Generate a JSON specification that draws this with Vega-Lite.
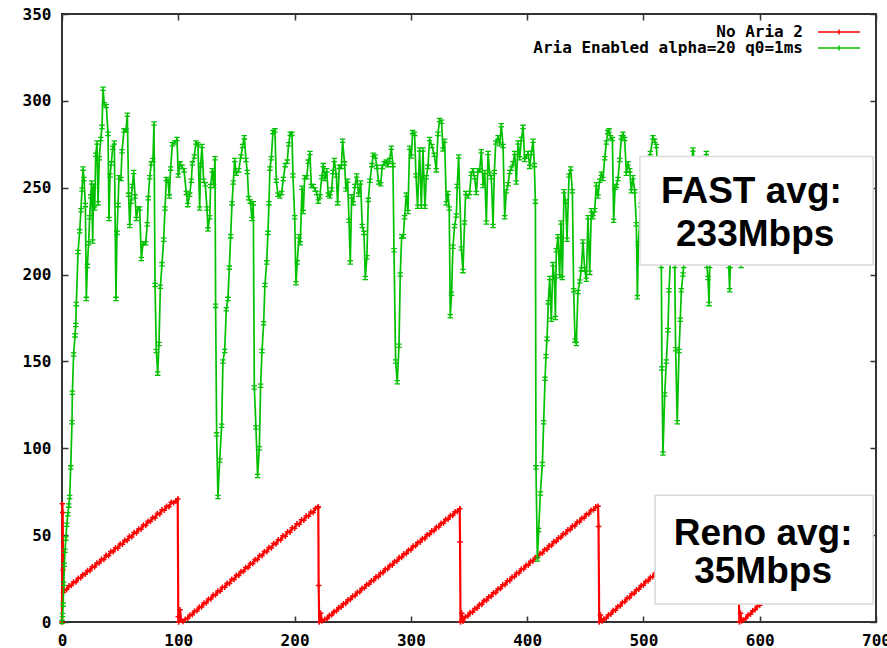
{
  "$schema": "https://vega.github.io/schema/vega-lite/v6.json",
  "width": 814,
  "height": 608,
  "autosize": {"type": "none"},
  "padding": {"left": 62, "top": 14, "right": 11, "bottom": 26},
  "background": "white",
  "config": {
    "view": {"stroke": "#333333", "strokeWidth": 2},
    "axis": {
      "domain": false,
      "grid": false,
      "title": null,
      "tickColor": "#333333",
      "tickWidth": 1.5,
      "tickSize": -6,
      "labelFont": "DejaVu Sans Mono",
      "labelFontWeight": "bold",
      "labelFontSize": 16,
      "labelColor": "#000000",
      "labelFlush": false,
      "labelOverlap": false,
      "labelBound": false
    }
  },
  "datasets": {
    "reno": [
      {"t": 0, "v": 0}, {"t": 0.3, "v": 68}, {"t": 0.6, "v": 63}, {"t": 0.9, "v": 30}, {"t": 1.2, "v": 17},
      {"t": 2, "v": 18.3}, {"t": 4, "v": 18.7}, {"t": 6, "v": 20.9}, {"t": 8, "v": 21.0}, {"t": 10, "v": 23.1},
      {"t": 12, "v": 23.0}, {"t": 14, "v": 25.2}, {"t": 16, "v": 25.3}, {"t": 18, "v": 27.4}, {"t": 20, "v": 27.5},
      {"t": 22, "v": 29.6}, {"t": 24, "v": 29.5}, {"t": 26, "v": 31.8}, {"t": 28, "v": 31.7}, {"t": 30, "v": 34.0},
      {"t": 32, "v": 33.9}, {"t": 34, "v": 36.1}, {"t": 36, "v": 36.0}, {"t": 38, "v": 38.4}, {"t": 40, "v": 38.2},
      {"t": 42, "v": 40.6}, {"t": 44, "v": 40.4}, {"t": 46, "v": 42.7}, {"t": 48, "v": 42.5}, {"t": 50, "v": 44.9},
      {"t": 52, "v": 44.8}, {"t": 54, "v": 47.1}, {"t": 56, "v": 46.9}, {"t": 58, "v": 49.3}, {"t": 60, "v": 49.0},
      {"t": 62, "v": 51.5}, {"t": 64, "v": 51.2}, {"t": 66, "v": 53.6}, {"t": 68, "v": 53.4}, {"t": 70, "v": 55.9},
      {"t": 72, "v": 55.6}, {"t": 74, "v": 58.0}, {"t": 76, "v": 57.8}, {"t": 78, "v": 60.2}, {"t": 80, "v": 59.9},
      {"t": 82, "v": 62.4}, {"t": 84, "v": 62.1}, {"t": 86, "v": 64.6}, {"t": 88, "v": 64.3}, {"t": 90, "v": 66.7},
      {"t": 92, "v": 66.4}, {"t": 94, "v": 68.9}, {"t": 96, "v": 68.6}, {"t": 98, "v": 69.6}, {"t": 99.5, "v": 70.8},
      {"t": 100, "v": 3}, {"t": 100.3, "v": 0}, {"t": 101.5, "v": 7}, {"t": 102.5, "v": 1}, {"t": 104, "v": 0.3},
      {"t": 106, "v": 1.6}, {"t": 108, "v": 2.0}, {"t": 110, "v": 4.0}, {"t": 112, "v": 4.2}, {"t": 114, "v": 6.3},
      {"t": 116, "v": 6.4}, {"t": 118, "v": 8.6}, {"t": 120, "v": 8.7}, {"t": 122, "v": 10.9}, {"t": 124, "v": 11.0},
      {"t": 126, "v": 13.2}, {"t": 128, "v": 13.2}, {"t": 130, "v": 15.5}, {"t": 132, "v": 15.5}, {"t": 134, "v": 17.8},
      {"t": 136, "v": 17.7}, {"t": 138, "v": 20.0}, {"t": 140, "v": 20.0}, {"t": 142, "v": 22.3}, {"t": 144, "v": 22.2},
      {"t": 146, "v": 24.6}, {"t": 148, "v": 24.5}, {"t": 150, "v": 26.9}, {"t": 152, "v": 26.8}, {"t": 154, "v": 29.1},
      {"t": 156, "v": 29.0}, {"t": 158, "v": 31.4}, {"t": 160, "v": 31.3}, {"t": 162, "v": 33.7}, {"t": 164, "v": 33.6},
      {"t": 166, "v": 36.0}, {"t": 168, "v": 35.9}, {"t": 170, "v": 38.3}, {"t": 172, "v": 38.1}, {"t": 174, "v": 40.6},
      {"t": 176, "v": 40.4}, {"t": 178, "v": 42.9}, {"t": 180, "v": 42.6}, {"t": 182, "v": 45.2}, {"t": 184, "v": 44.9},
      {"t": 186, "v": 47.4}, {"t": 188, "v": 47.2}, {"t": 190, "v": 49.7}, {"t": 192, "v": 49.4}, {"t": 194, "v": 52.0},
      {"t": 196, "v": 51.7}, {"t": 198, "v": 54.3}, {"t": 200, "v": 54.0}, {"t": 202, "v": 56.5}, {"t": 204, "v": 56.3},
      {"t": 206, "v": 58.8}, {"t": 208, "v": 58.6}, {"t": 210, "v": 61.0}, {"t": 212, "v": 60.9}, {"t": 214, "v": 63.3},
      {"t": 216, "v": 63.1}, {"t": 218, "v": 65.5}, {"t": 220, "v": 65.8}, {"t": 220.4, "v": 66.3}, {"t": 220.7, "v": 21},
      {"t": 221.2, "v": 0}, {"t": 222.5, "v": 5}, {"t": 223.5, "v": 0.5},
      {"t": 226, "v": 1.6}, {"t": 228, "v": 1.9}, {"t": 230, "v": 3.9}, {"t": 232, "v": 4.1}, {"t": 234, "v": 6.1},
      {"t": 236, "v": 6.3}, {"t": 238, "v": 8.3}, {"t": 240, "v": 8.5}, {"t": 242, "v": 10.5}, {"t": 244, "v": 10.7},
      {"t": 246, "v": 12.8}, {"t": 248, "v": 12.9}, {"t": 250, "v": 15.0}, {"t": 252, "v": 15.1}, {"t": 254, "v": 17.2},
      {"t": 256, "v": 17.3}, {"t": 258, "v": 19.4}, {"t": 260, "v": 19.5}, {"t": 262, "v": 21.6}, {"t": 264, "v": 21.7},
      {"t": 266, "v": 23.8}, {"t": 268, "v": 23.9}, {"t": 270, "v": 26.0}, {"t": 272, "v": 26.1}, {"t": 274, "v": 28.2},
      {"t": 276, "v": 28.3}, {"t": 278, "v": 30.5}, {"t": 280, "v": 30.5}, {"t": 282, "v": 32.7}, {"t": 284, "v": 32.7},
      {"t": 286, "v": 34.9}, {"t": 288, "v": 34.9}, {"t": 290, "v": 37.1}, {"t": 292, "v": 37.1}, {"t": 294, "v": 39.3},
      {"t": 296, "v": 39.3}, {"t": 298, "v": 41.5}, {"t": 300, "v": 41.5}, {"t": 302, "v": 43.7}, {"t": 304, "v": 43.7},
      {"t": 306, "v": 45.9}, {"t": 308, "v": 45.9}, {"t": 310, "v": 48.1}, {"t": 312, "v": 48.1}, {"t": 314, "v": 50.3},
      {"t": 316, "v": 50.3}, {"t": 318, "v": 52.5}, {"t": 320, "v": 52.5}, {"t": 322, "v": 54.7}, {"t": 324, "v": 54.7},
      {"t": 326, "v": 56.9}, {"t": 328, "v": 56.9}, {"t": 330, "v": 59.1}, {"t": 332, "v": 59.1}, {"t": 334, "v": 61.3},
      {"t": 336, "v": 61.3}, {"t": 338, "v": 63.5}, {"t": 340, "v": 63.6}, {"t": 342, "v": 65.2}, {"t": 342.3, "v": 46},
      {"t": 342.7, "v": 0}, {"t": 343.8, "v": 5}, {"t": 345, "v": 0.5},
      {"t": 347, "v": 3.1}, {"t": 349, "v": 3.4}, {"t": 351, "v": 5.5}, {"t": 353, "v": 5.6}, {"t": 355, "v": 7.8},
      {"t": 357, "v": 7.9}, {"t": 359, "v": 10.1}, {"t": 361, "v": 10.1}, {"t": 363, "v": 12.4}, {"t": 365, "v": 12.4},
      {"t": 367, "v": 14.6}, {"t": 369, "v": 14.7}, {"t": 371, "v": 16.9}, {"t": 373, "v": 16.9}, {"t": 375, "v": 19.2},
      {"t": 377, "v": 19.2}, {"t": 379, "v": 21.4}, {"t": 381, "v": 21.4}, {"t": 383, "v": 23.7}, {"t": 385, "v": 23.7},
      {"t": 387, "v": 25.9}, {"t": 389, "v": 26.0}, {"t": 391, "v": 28.2}, {"t": 393, "v": 28.2}, {"t": 395, "v": 30.5},
      {"t": 397, "v": 30.5}, {"t": 399, "v": 32.7}, {"t": 401, "v": 32.7}, {"t": 403, "v": 35.0}, {"t": 405, "v": 35.0},
      {"t": 407, "v": 37.2}, {"t": 409, "v": 37.3}, {"t": 411, "v": 39.5}, {"t": 413, "v": 39.5}, {"t": 415, "v": 41.8},
      {"t": 417, "v": 41.8}, {"t": 419, "v": 44.0}, {"t": 421, "v": 44.0}, {"t": 423, "v": 46.3}, {"t": 425, "v": 46.3},
      {"t": 427, "v": 48.5}, {"t": 429, "v": 48.6}, {"t": 431, "v": 50.8}, {"t": 433, "v": 50.8}, {"t": 435, "v": 53.1},
      {"t": 437, "v": 53.1}, {"t": 439, "v": 55.3}, {"t": 441, "v": 55.3}, {"t": 443, "v": 57.6}, {"t": 445, "v": 57.6},
      {"t": 447, "v": 59.8}, {"t": 449, "v": 59.9}, {"t": 451, "v": 62.1}, {"t": 453, "v": 62.1}, {"t": 455, "v": 64.4},
      {"t": 457, "v": 64.4}, {"t": 459, "v": 66.4}, {"t": 461, "v": 66.6}, {"t": 461.4, "v": 55}, {"t": 462, "v": 0},
      {"t": 463, "v": 4}, {"t": 464.5, "v": 0.5},
      {"t": 466, "v": 1.7}, {"t": 468, "v": 2.1}, {"t": 470, "v": 4.2}, {"t": 472, "v": 4.4}, {"t": 474, "v": 6.6},
      {"t": 476, "v": 6.8}, {"t": 478, "v": 9.0}, {"t": 480, "v": 9.2}, {"t": 482, "v": 11.4}, {"t": 484, "v": 11.6},
      {"t": 486, "v": 13.8}, {"t": 488, "v": 14.0}, {"t": 490, "v": 16.2}, {"t": 492, "v": 16.4}, {"t": 494, "v": 18.6},
      {"t": 496, "v": 18.8}, {"t": 498, "v": 21.0}, {"t": 500, "v": 21.2}, {"t": 502, "v": 23.4}, {"t": 504, "v": 23.6},
      {"t": 506, "v": 25.8}, {"t": 508, "v": 26.0}, {"t": 510, "v": 28.2}, {"t": 514, "v": 29.6}, {"t": 518, "v": 33.0},
      {"t": 522, "v": 34.4}, {"t": 526, "v": 37.8}, {"t": 530, "v": 39.2}, {"t": 534, "v": 42.6}, {"t": 538, "v": 44.0},
      {"t": 542, "v": 47.4}, {"t": 546, "v": 48.8}, {"t": 550, "v": 52.2}, {"t": 554, "v": 53.6}, {"t": 558, "v": 57.0},
      {"t": 562, "v": 58.4}, {"t": 566, "v": 61.8}, {"t": 570, "v": 63.2}, {"t": 574, "v": 66.4}, {"t": 578, "v": 68.0},
      {"t": 581, "v": 69.6}, {"t": 581.8, "v": 24}, {"t": 582.5, "v": 0}, {"t": 583.5, "v": 5}, {"t": 584.5, "v": 0.5},
      {"t": 586, "v": 1.3}, {"t": 588, "v": 2.0}, {"t": 590, "v": 4.0}, {"t": 592, "v": 4.5}, {"t": 594, "v": 6.5},
      {"t": 596, "v": 7.0}, {"t": 598, "v": 9.0}, {"t": 600, "v": 9.6}
    ],
    "aria": [
      {"t": 0, "v": 0}, {"t": 0.5, "v": 4}, {"t": 1.0, "v": 10}, {"t": 1.5, "v": 22}, {"t": 2.0, "v": 33},
      {"t": 2.6, "v": 41}, {"t": 3.3, "v": 48}, {"t": 4.1, "v": 56}, {"t": 5.0, "v": 62}, {"t": 5.8, "v": 67},
      {"t": 6.6, "v": 72}, {"t": 7.5, "v": 89}, {"t": 8.6, "v": 115}, {"t": 8.9, "v": 132}, {"t": 10.0, "v": 154},
      {"t": 11.2, "v": 165}, {"t": 11.8, "v": 171}, {"t": 12.3, "v": 183}, {"t": 13.8, "v": 213}, {"t": 15.2, "v": 225},
      {"t": 16.3, "v": 237}, {"t": 17.2, "v": 249}, {"t": 18.1, "v": 261}, {"t": 18.9, "v": 255}, {"t": 20.1, "v": 240},
      {"t": 20.9, "v": 186}, {"t": 21.8, "v": 205}, {"t": 22.9, "v": 218}, {"t": 23.8, "v": 233}, {"t": 24.7, "v": 245},
      {"t": 25.5, "v": 253}, {"t": 26.4, "v": 219}, {"t": 27.2, "v": 251}, {"t": 28.1, "v": 238}, {"t": 29.0, "v": 269},
      {"t": 30.1, "v": 276}, {"t": 31.0, "v": 241}, {"t": 32.1, "v": 267}, {"t": 33.3, "v": 278}, {"t": 34.4, "v": 285},
      {"t": 35.3, "v": 307}, {"t": 36.4, "v": 298}, {"t": 38.1, "v": 297}, {"t": 39.6, "v": 281}, {"t": 40.4, "v": 232},
      {"t": 41.3, "v": 257}, {"t": 42.4, "v": 264}, {"t": 43.6, "v": 273}, {"t": 45.0, "v": 276}, {"t": 46.4, "v": 186},
      {"t": 47.3, "v": 224}, {"t": 48.2, "v": 240}, {"t": 49.0, "v": 256}, {"t": 50.7, "v": 255}, {"t": 51.6, "v": 271},
      {"t": 53.3, "v": 283}, {"t": 55.0, "v": 283}, {"t": 56.2, "v": 292}, {"t": 57.3, "v": 246}, {"t": 58.2, "v": 228},
      {"t": 59.3, "v": 242}, {"t": 60.5, "v": 251}, {"t": 61.6, "v": 259}, {"t": 62.8, "v": 245}, {"t": 63.9, "v": 232},
      {"t": 65.4, "v": 238}, {"t": 66.8, "v": 238}, {"t": 68.2, "v": 209}, {"t": 69.7, "v": 218}, {"t": 71.9, "v": 218},
      {"t": 73.4, "v": 229}, {"t": 74.2, "v": 244}, {"t": 75.4, "v": 256}, {"t": 76.8, "v": 264}, {"t": 78.2, "v": 266},
      {"t": 79.1, "v": 287}, {"t": 80.0, "v": 194}, {"t": 81.1, "v": 156}, {"t": 82.3, "v": 143}, {"t": 83.4, "v": 160},
      {"t": 84.6, "v": 193}, {"t": 86.0, "v": 206}, {"t": 87.4, "v": 220}, {"t": 88.6, "v": 238}, {"t": 89.7, "v": 255},
      {"t": 91.1, "v": 254}, {"t": 92.3, "v": 245}, {"t": 93.4, "v": 261}, {"t": 94.9, "v": 275}, {"t": 96.9, "v": 276},
      {"t": 98.9, "v": 278}, {"t": 100.0, "v": 257}, {"t": 101.5, "v": 264}, {"t": 103.2, "v": 262}, {"t": 104.9, "v": 260},
      {"t": 106.9, "v": 247}, {"t": 108.1, "v": 240}, {"t": 109.8, "v": 246}, {"t": 111.2, "v": 254}, {"t": 112.1, "v": 264},
      {"t": 113.8, "v": 268}, {"t": 115.2, "v": 276}, {"t": 116.9, "v": 275}, {"t": 118.4, "v": 238}, {"t": 119.2, "v": 263},
      {"t": 120.4, "v": 274}, {"t": 121.8, "v": 254}, {"t": 123.2, "v": 252}, {"t": 124.7, "v": 238}, {"t": 125.5, "v": 226},
      {"t": 127.0, "v": 233}, {"t": 127.8, "v": 251}, {"t": 129.3, "v": 260}, {"t": 130.4, "v": 251}, {"t": 131.6, "v": 267},
      {"t": 132.1, "v": 182}, {"t": 133.0, "v": 108}, {"t": 134.1, "v": 72}, {"t": 135.6, "v": 93}, {"t": 137.3, "v": 113},
      {"t": 138.4, "v": 150}, {"t": 139.9, "v": 156}, {"t": 141.3, "v": 180}, {"t": 142.7, "v": 186}, {"t": 143.9, "v": 204},
      {"t": 145.0, "v": 222}, {"t": 146.2, "v": 241}, {"t": 147.3, "v": 253}, {"t": 148.5, "v": 266}, {"t": 149.9, "v": 258},
      {"t": 151.9, "v": 260}, {"t": 153.9, "v": 268}, {"t": 155.3, "v": 274}, {"t": 156.8, "v": 279}, {"t": 158.2, "v": 266},
      {"t": 159.4, "v": 259}, {"t": 160.5, "v": 244}, {"t": 161.9, "v": 242}, {"t": 163.4, "v": 232}, {"t": 164.5, "v": 241},
      {"t": 165.4, "v": 135}, {"t": 166.8, "v": 112}, {"t": 168.2, "v": 84}, {"t": 169.7, "v": 100}, {"t": 170.8, "v": 136},
      {"t": 172.0, "v": 156}, {"t": 173.4, "v": 172}, {"t": 174.5, "v": 194}, {"t": 176.0, "v": 207}, {"t": 177.1, "v": 224},
      {"t": 178.0, "v": 241}, {"t": 178.8, "v": 261}, {"t": 180.0, "v": 267}, {"t": 181.4, "v": 282}, {"t": 183.1, "v": 283},
      {"t": 184.3, "v": 254}, {"t": 185.7, "v": 246}, {"t": 187.4, "v": 245}, {"t": 188.9, "v": 247}, {"t": 190.3, "v": 255},
      {"t": 192.0, "v": 263}, {"t": 193.7, "v": 265}, {"t": 194.9, "v": 275}, {"t": 196.3, "v": 281}, {"t": 197.8, "v": 281},
      {"t": 198.6, "v": 257}, {"t": 200.1, "v": 233}, {"t": 201.2, "v": 195}, {"t": 202.3, "v": 207}, {"t": 203.8, "v": 222},
      {"t": 204.9, "v": 218}, {"t": 206.4, "v": 250}, {"t": 207.5, "v": 236}, {"t": 208.7, "v": 256}, {"t": 210.4, "v": 256},
      {"t": 211.8, "v": 265}, {"t": 213.2, "v": 270}, {"t": 214.4, "v": 251}, {"t": 216.1, "v": 251}, {"t": 217.5, "v": 249},
      {"t": 219.0, "v": 247}, {"t": 220.4, "v": 242}, {"t": 221.8, "v": 245}, {"t": 223.3, "v": 256}, {"t": 224.7, "v": 263},
      {"t": 226.1, "v": 255}, {"t": 227.6, "v": 260}, {"t": 229.0, "v": 246}, {"t": 230.4, "v": 245}, {"t": 231.9, "v": 249},
      {"t": 233.0, "v": 259}, {"t": 234.2, "v": 266}, {"t": 235.9, "v": 257}, {"t": 237.0, "v": 241}, {"t": 238.5, "v": 262},
      {"t": 240.2, "v": 262}, {"t": 241.3, "v": 277}, {"t": 243.0, "v": 264}, {"t": 244.2, "v": 249}, {"t": 245.6, "v": 254},
      {"t": 246.8, "v": 231}, {"t": 247.9, "v": 207}, {"t": 249.1, "v": 245}, {"t": 250.5, "v": 241}, {"t": 251.9, "v": 251},
      {"t": 253.4, "v": 257}, {"t": 255.1, "v": 246}, {"t": 256.8, "v": 253}, {"t": 258.2, "v": 228}, {"t": 259.7, "v": 224},
      {"t": 260.8, "v": 198}, {"t": 262.2, "v": 210}, {"t": 263.4, "v": 243}, {"t": 264.8, "v": 254}, {"t": 266.5, "v": 263},
      {"t": 267.7, "v": 269}, {"t": 269.4, "v": 268}, {"t": 270.8, "v": 262}, {"t": 272.3, "v": 253}, {"t": 274.0, "v": 252},
      {"t": 275.4, "v": 262}, {"t": 277.1, "v": 264}, {"t": 278.9, "v": 265}, {"t": 280.3, "v": 263}, {"t": 281.7, "v": 266},
      {"t": 283.2, "v": 273}, {"t": 284.6, "v": 263}, {"t": 285.5, "v": 214}, {"t": 286.9, "v": 150}, {"t": 288.3, "v": 138},
      {"t": 289.8, "v": 159}, {"t": 290.9, "v": 200}, {"t": 292.1, "v": 222}, {"t": 293.5, "v": 222}, {"t": 294.6, "v": 233},
      {"t": 296.1, "v": 246}, {"t": 297.5, "v": 236}, {"t": 298.9, "v": 273}, {"t": 300.4, "v": 268}, {"t": 301.5, "v": 282},
      {"t": 303.2, "v": 281}, {"t": 304.4, "v": 257}, {"t": 305.8, "v": 239}, {"t": 307.5, "v": 272}, {"t": 309.0, "v": 239},
      {"t": 310.4, "v": 272}, {"t": 312.1, "v": 239}, {"t": 313.3, "v": 256}, {"t": 314.7, "v": 262}, {"t": 316.1, "v": 278},
      {"t": 318.1, "v": 274}, {"t": 320.1, "v": 269}, {"t": 321.9, "v": 260}, {"t": 323.3, "v": 281}, {"t": 324.7, "v": 289},
      {"t": 326.4, "v": 288}, {"t": 327.6, "v": 272}, {"t": 329.0, "v": 277}, {"t": 330.5, "v": 241}, {"t": 331.9, "v": 247},
      {"t": 333.0, "v": 238}, {"t": 333.9, "v": 176}, {"t": 335.0, "v": 189}, {"t": 336.2, "v": 216}, {"t": 337.6, "v": 228},
      {"t": 339.1, "v": 234}, {"t": 339.9, "v": 251}, {"t": 341.1, "v": 268}, {"t": 343.4, "v": 215}, {"t": 344.8, "v": 202},
      {"t": 346.2, "v": 230}, {"t": 347.1, "v": 247}, {"t": 349.1, "v": 245}, {"t": 350.5, "v": 247}, {"t": 352.0, "v": 258},
      {"t": 353.4, "v": 260}, {"t": 354.8, "v": 256}, {"t": 356.3, "v": 247}, {"t": 357.7, "v": 260}, {"t": 359.2, "v": 260},
      {"t": 360.6, "v": 271}, {"t": 362.1, "v": 251}, {"t": 363.5, "v": 259}, {"t": 364.9, "v": 230}, {"t": 366.4, "v": 270},
      {"t": 367.8, "v": 258}, {"t": 369.2, "v": 256}, {"t": 370.7, "v": 228}, {"t": 371.8, "v": 259}, {"t": 373.0, "v": 276},
      {"t": 375.0, "v": 279}, {"t": 376.4, "v": 275}, {"t": 377.8, "v": 286}, {"t": 379.3, "v": 274}, {"t": 380.7, "v": 233},
      {"t": 382.1, "v": 248}, {"t": 383.6, "v": 252}, {"t": 385.0, "v": 259}, {"t": 386.4, "v": 261}, {"t": 387.9, "v": 264},
      {"t": 389.3, "v": 270}, {"t": 390.7, "v": 253}, {"t": 392.2, "v": 276}, {"t": 393.6, "v": 267}, {"t": 395.0, "v": 278},
      {"t": 396.5, "v": 285}, {"t": 397.9, "v": 266}, {"t": 399.3, "v": 268}, {"t": 400.8, "v": 270}, {"t": 402.2, "v": 262},
      {"t": 403.6, "v": 270}, {"t": 405.1, "v": 277}, {"t": 406.2, "v": 263}, {"t": 407.1, "v": 242}, {"t": 407.6, "v": 89},
      {"t": 408.8, "v": 36}, {"t": 409.9, "v": 53}, {"t": 411.4, "v": 74}, {"t": 413.1, "v": 91}, {"t": 414.2, "v": 115},
      {"t": 415.4, "v": 140}, {"t": 416.2, "v": 153}, {"t": 417.1, "v": 163}, {"t": 418.2, "v": 184}, {"t": 419.4, "v": 198},
      {"t": 420.8, "v": 174}, {"t": 422.2, "v": 206}, {"t": 423.4, "v": 198}, {"t": 424.3, "v": 175}, {"t": 425.1, "v": 214},
      {"t": 426.5, "v": 222}, {"t": 428.0, "v": 199}, {"t": 429.1, "v": 230}, {"t": 430.3, "v": 198}, {"t": 431.7, "v": 248},
      {"t": 433.1, "v": 242}, {"t": 434.3, "v": 220}, {"t": 436.0, "v": 257}, {"t": 437.4, "v": 261}, {"t": 438.9, "v": 248},
      {"t": 440.0, "v": 191}, {"t": 441.2, "v": 162}, {"t": 442.3, "v": 160}, {"t": 443.7, "v": 190}, {"t": 445.2, "v": 196},
      {"t": 446.6, "v": 203}, {"t": 448.0, "v": 219}, {"t": 449.5, "v": 203}, {"t": 450.9, "v": 197}, {"t": 452.3, "v": 233},
      {"t": 453.8, "v": 201}, {"t": 455.2, "v": 237}, {"t": 456.6, "v": 233}, {"t": 458.1, "v": 237}, {"t": 459.5, "v": 252},
      {"t": 460.9, "v": 245}, {"t": 462.4, "v": 254}, {"t": 463.8, "v": 258}, {"t": 465.2, "v": 255}, {"t": 466.7, "v": 267},
      {"t": 468.1, "v": 276}, {"t": 469.3, "v": 282}, {"t": 470.4, "v": 283}, {"t": 471.8, "v": 279}, {"t": 473.3, "v": 278},
      {"t": 474.4, "v": 231}, {"t": 475.6, "v": 250}, {"t": 476.7, "v": 251}, {"t": 478.1, "v": 255}, {"t": 479.6, "v": 266},
      {"t": 481.0, "v": 279}, {"t": 482.4, "v": 281}, {"t": 483.9, "v": 278}, {"t": 485.3, "v": 258}, {"t": 486.7, "v": 264},
      {"t": 488.2, "v": 260}, {"t": 489.6, "v": 248}, {"t": 491.0, "v": 256}, {"t": 492.5, "v": 248}, {"t": 493.9, "v": 229},
      {"t": 494.8, "v": 187}, {"t": 495.6, "v": 218}, {"t": 498, "v": 240}, {"t": 501, "v": 255}, {"t": 504, "v": 262},
      {"t": 506, "v": 270}, {"t": 508.2, "v": 279}, {"t": 509.7, "v": 277}, {"t": 511.1, "v": 274}, {"t": 513, "v": 250},
      {"t": 515.4, "v": 205}, {"t": 515.9, "v": 146}, {"t": 516.8, "v": 97}, {"t": 518.3, "v": 131}, {"t": 519.7, "v": 150},
      {"t": 521.1, "v": 168}, {"t": 522.0, "v": 191}, {"t": 523.1, "v": 207}, {"t": 525, "v": 230}, {"t": 526.9, "v": 205},
      {"t": 527.7, "v": 157}, {"t": 529.1, "v": 115}, {"t": 530.6, "v": 156}, {"t": 531.7, "v": 174}, {"t": 532.6, "v": 191},
      {"t": 534.0, "v": 200}, {"t": 534.6, "v": 205}, {"t": 537, "v": 240}, {"t": 540, "v": 255}, {"t": 542.6, "v": 272},
      {"t": 545, "v": 258}, {"t": 548, "v": 245}, {"t": 551, "v": 235}, {"t": 554.1, "v": 270}, {"t": 554.6, "v": 205},
      {"t": 555.5, "v": 198}, {"t": 556.4, "v": 183}, {"t": 557.0, "v": 205}, {"t": 560, "v": 240}, {"t": 563, "v": 255},
      {"t": 566, "v": 248}, {"t": 569, "v": 236}, {"t": 572.7, "v": 210}, {"t": 573.4, "v": 205}, {"t": 574.1, "v": 191},
      {"t": 574.7, "v": 205}, {"t": 578, "v": 245}, {"t": 581, "v": 258}, {"t": 584, "v": 205}, {"t": 587, "v": 240},
      {"t": 590, "v": 252}, {"t": 594, "v": 246}, {"t": 597, "v": 238}, {"t": 600, "v": 250}
    ],
    "boxes": [
      {"x0": 497, "x1": 697.5, "y0": 205.5, "y1": 268},
      {"x0": 510, "x1": 697.5, "y0": 10.4, "y1": 73}
    ],
    "notes": [
      {"x": 592.8, "y": 241.0, "text": "FAST avg:"},
      {"x": 596.1, "y": 216.5, "text": "233Mbps"},
      {"x": 602.9, "y": 44.3, "text": "Reno avg:"},
      {"x": 602.9, "y": 22.6, "text": "35Mbps"}
    ]
  },
  "layer": [
    {
      "data": {"name": "reno"},
      "mark": {"type": "line", "strokeWidth": 2.2},
      "encoding": {
        "x": {
          "field": "t", "type": "quantitative",
          "scale": {"domain": [0, 700], "nice": false, "zero": false},
          "axis": {"orient": "bottom", "values": [0, 100, 200, 300, 400, 500, 600, 700], "labelPadding": 16}
        },
        "y": {
          "field": "v", "type": "quantitative",
          "scale": {"domain": [0, 350], "nice": false, "zero": false},
          "axis": {"orient": "left", "values": [0, 50, 100, 150, 200, 250, 300, 350], "labelPadding": 17}
        },
        "color": {
          "datum": "No Aria 2",
          "type": "nominal",
          "scale": {"domain": ["No Aria 2", "Aria Enabled alpha=20 q0=1ms"], "range": ["#ff0000", "#00c000"]},
          "legend": {
            "orient": "none",
            "legendX": 753,
            "legendY": 10,
            "title": null,
            "direction": "vertical",
            "symbolType": "M-4,0H4M0,-0.5V0.5",
            "symbolSize": 110,
            "symbolStrokeWidth": 1.5,
            "symbolOffset": 16,
            "labelAlign": "right",
            "labelOffset": -44,
            "labelFont": "DejaVu Sans Mono",
            "labelFontWeight": "bold",
            "labelFontSize": 16,
            "labelColor": "#000000",
            "labelLimit": 400,
            "rowPadding": -0.3,
            "padding": 0
          }
        }
      }
    },
    {
      "data": {"name": "reno"},
      "mark": {"type": "point", "shape": "M-1,0H1M0,-1V1", "size": 30, "strokeWidth": 1.5, "filled": false, "opacity": 1},
      "encoding": {
        "x": {"field": "t", "type": "quantitative", "axis": null},
        "y": {"field": "v", "type": "quantitative", "axis": null},
        "color": {"value": "#ff0000"}
      }
    },
    {
      "data": {"name": "aria"},
      "mark": {"type": "line", "strokeWidth": 1.7},
      "encoding": {
        "x": {
          "field": "t", "type": "quantitative",
          "axis": {"orient": "top", "values": [0, 100, 200, 300, 400, 500, 600, 700], "labels": false}
        },
        "y": {
          "field": "v", "type": "quantitative",
          "axis": {"orient": "right", "values": [0, 50, 100, 150, 200, 250, 300, 350], "labels": false}
        },
        "color": {"datum": "Aria Enabled alpha=20 q0=1ms", "type": "nominal"}
      }
    },
    {
      "data": {"name": "aria"},
      "mark": {"type": "point", "shape": "M-1,-0.6H1M-1,0.6H1M0,-0.6V0.6", "size": 30, "strokeWidth": 1.3, "filled": false, "opacity": 1},
      "encoding": {
        "x": {"field": "t", "type": "quantitative", "axis": null},
        "y": {"field": "v", "type": "quantitative", "axis": null},
        "color": {"value": "#00c000"}
      }
    },
    {
      "data": {"name": "boxes"},
      "mark": {"type": "rect", "fill": "#ffffff", "stroke": "#d9d9d9", "strokeWidth": 1.5},
      "encoding": {
        "x": {"field": "x0", "type": "quantitative", "axis": null},
        "x2": {"field": "x1"},
        "y": {"field": "y0", "type": "quantitative", "axis": null},
        "y2": {"field": "y1"}
      }
    },
    {
      "data": {"name": "notes"},
      "mark": {"type": "text", "font": "Liberation Sans", "fontWeight": "bold", "fontSize": 37, "align": "center", "baseline": "alphabetic", "color": "#000000"},
      "encoding": {
        "x": {"field": "x", "type": "quantitative", "axis": null},
        "y": {"field": "y", "type": "quantitative", "axis": null},
        "text": {"field": "text"}
      }
    }
  ],
  "resolve": {"axis": {"x": "independent", "y": "independent"}}
}
